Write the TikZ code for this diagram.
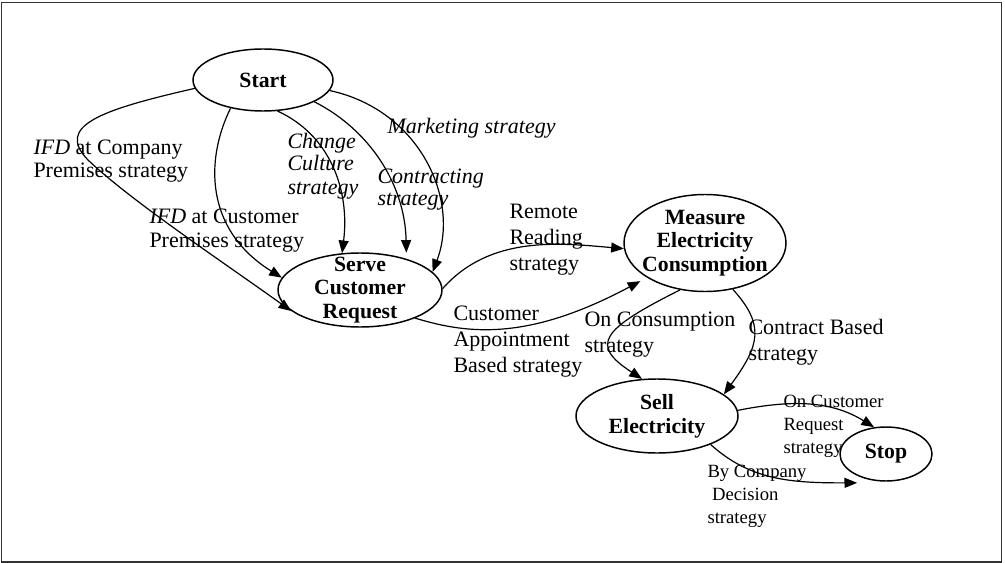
\documentclass[tikz,border=0pt]{standalone}
\usepackage{fontspec}
\setmainfont{Liberation Serif}
\usetikzlibrary{shapes.geometric,arrows.meta,calc}

\tikzset{every picture/.style={line width=0.75pt}}
\tikzset{
  stateshape/.style={draw, ellipse, line width=1.1pt, inner sep=0pt},
  statetext/.style={align=center, font=\bfseries\fontsize{16.3}{17.8}\selectfont},
  trans/.style={line width=0.9pt, -{Triangle[length=9.5pt,width=7.5pt]}},
  strat/.style={anchor=base west, inner sep=0pt, align=left, font=\fontsize{16.5}{#1}\selectfont},
  strat/.default=18,
  smallstrat/.style={anchor=base west, inner sep=0pt, align=left, font=\fontsize{14}{17.2}\selectfont},
}

\begin{document}
\begin{tikzpicture}[x=0.75pt,y=0.75pt,yscale=-1,xscale=1]
\useasboundingbox (0,0) rectangle (1005,563);

%Shape: Rectangle [frame]
\draw[line width=1.1pt, black!80] (1.5,2.5) rectangle (1001.5,561.8);

%Shape: Ellipse [start]
\node[stateshape, minimum width=105pt, minimum height=46.5pt, label={[statetext]center:Start}] (start) at (263,80) {};
%Shape: Ellipse [serve]
\node[stateshape, minimum width=123pt, minimum height=55.5pt, label={[statetext]center:Serve\\Customer\\Request}] (serve) at (360,290) {};
%Shape: Ellipse [measure]
\node[stateshape, minimum width=121.5pt, minimum height=72.75pt, label={[statetext]center:Measure\\Electricity\\Consumption}] (measure) at (705,243) {};
%Shape: Ellipse [sell]
\node[stateshape, minimum width=121.5pt, minimum height=55.5pt, label={[statetext]center:Sell\\Electricity}] (sell) at (657,416) {};
%Shape: Ellipse [stop]
\node[stateshape, minimum width=69pt, minimum height=40.5pt, label={[statetext]center:Stop}] (stop) at (886,454) {};

%Curve Lines [start to serve]
\draw[trans] (start.187) .. controls (100,110) and (55,126) .. (88,160) .. controls (130,200) and (220,260) .. (serve.197);
\draw[trans] (start.221) .. controls (205,160) and (205,230) .. (serve.171);
\draw[trans] (start.295) .. controls (330,135) and (350,190) .. (serve.116);
\draw[trans] (start.337) .. controls (370,130) and (405,185) .. ($(serve.34)+(0,-6)$);
\draw[trans] (start.351) .. controls (420,110) and (460,200) .. (serve.14);
%Curve Lines [serve to measure]
\draw[trans] (serve.1) .. controls (490,235) and (560,243) .. (measure.184);
\draw[trans] (serve.333) .. controls (470,335) and (530,340) .. ($(measure.205)+(0,8)$);
%Curve Lines [measure to sell]
\draw[trans] (measure.242) .. controls (600,330) and (590,345) .. (sell.112);
\draw[trans] (measure.301) .. controls (765,325) and (760,345) .. (sell.18);
%Curve Lines [sell to stop]
\draw[trans] (sell.4) .. controls (790,400) and (830,400) .. (stop.114);
\draw[trans] (sell.332) .. controls (750,480) and (790,483) .. ($(stop.225)+(-5,5)$);

%Text Nodes [strategies] (placed at the baseline of the last line)
\node[strat=17.25] (ifdcompany) at (33,177) {\textit{IFD} at Company\\Premises strategy};
\node[strat=18] (ifdcustomer) at (149,247) {\textit{IFD} at Customer\\Premises strategy};
\node[strat=17.25] (culture) at (287,194) {\textit{Change}\\\textit{Culture}\\\textit{strategy}};
\node[strat] (marketing) at (387,134) {\textit{Marketing strategy}};
\node[strat=16.5] (contracting) at (377,205) {\textit{Contracting}\\\textit{strategy}};
\node[strat=19.5] (remote) at (509,270) {Remote\\Reading\\strategy};
\node[strat=19.5] (appointment) at (453,372) {Customer\\Appointment\\Based strategy};
\node[strat=19.5] (consumption) at (584,352) {On Consumption\\strategy};
\node[strat=19.5] (contract) at (748,360) {Contract Based\\strategy};
\node[smallstrat] (request) at (783,453) {On Customer\\Request\\strategy};
\node[smallstrat] (decision) at (707,523) {By Company\\\hspace*{0.25em}Decision\\strategy};

\end{tikzpicture}
\end{document}
